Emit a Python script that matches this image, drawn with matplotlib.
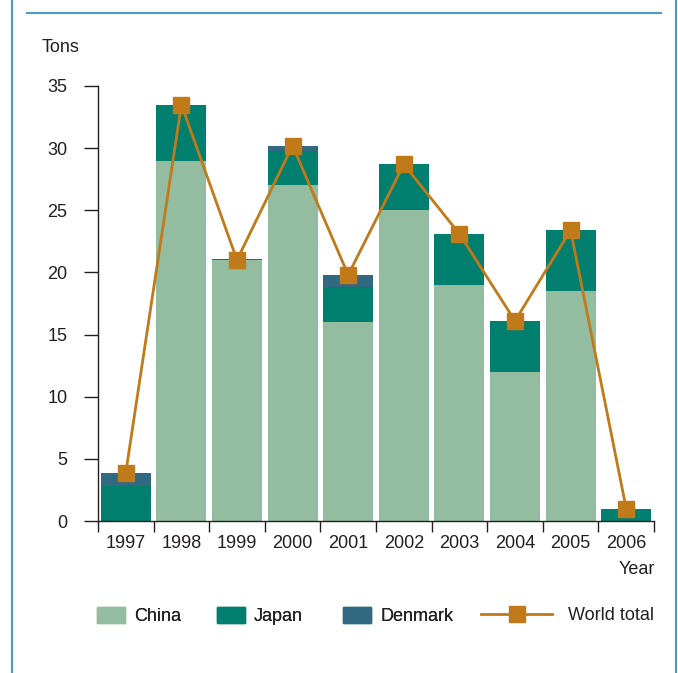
import matplotlib
matplotlib.use('Agg')
import matplotlib.pyplot as plt
from matplotlib.lines import Line2D
from matplotlib.patches import Patch
import numpy as np

plt.rcParams['font.family'] = ['Liberation Sans', 'DejaVu Sans']

years = ['1997', '1998', '1999', '2000', '2001', '2002', '2003', '2004', '2005', '2006']
china = [0, 29, 21, 27, 16, 25, 19, 12, 18.5, 0]
japan = [2.8, 4.5, 0.1, 2.75, 2.8, 3.7, 4.1, 4.1, 4.9, 1.0]
denmark = [1.1, 0, 0, 0.45, 1.0, 0, 0, 0, 0, 0]
world = [3.9, 33.5, 21, 30.2, 19.8, 28.7, 23.1, 16.1, 23.4, 1.0]

c_china = '#93bca0'
c_japan = '#007e6e'
c_den = '#316a80'
c_world = '#c07a1a'
c_txt = '#231f20'
c_frame = '#4a9cc0'
fs = 13

fig = plt.figure(figsize=(6.78, 6.73), dpi=100)
ax = fig.add_axes([98/678, 1-521/673, (654-98)/678, (521-86)/673])

x = np.arange(len(years))
china = np.array(china)
japan = np.array(japan)
denmark = np.array(denmark)
ax.bar(x, china, width=0.9, color=c_china, zorder=2)
ax.bar(x, japan, width=0.9, bottom=china, color=c_japan, zorder=2)
ax.bar(x, denmark, width=0.9, bottom=china+japan, color=c_den, zorder=2)
ax.plot(x, world, color=c_world, lw=2, marker='s', ms=11.5, mec=c_world, mfc=c_world, zorder=3)

ax.set_xlim(-0.5, len(years)-0.5)
ax.set_ylim(0, 35)
ax.set_yticks(range(0, 36, 5))
ax.set_xticks(x)
ax.set_xticklabels(years)
ax.set_xticks(np.arange(-0.5, len(years)), minor=True)
ax.tick_params(axis='x', which='major', length=0, pad=10, labelsize=fs, labelcolor=c_txt)
ax.tick_params(axis='x', which='minor', length=8, width=1, direction='out', color=c_txt)
ax.tick_params(axis='y', length=10, width=1, pad=12, labelsize=fs, labelcolor=c_txt, color=c_txt)
for s in ['top', 'right']:
    ax.spines[s].set_visible(False)
for s in ['left', 'bottom']:
    ax.spines[s].set_color(c_txt)
    ax.spines[s].set_linewidth(1)

fig.text(42/678, 1-48/673, 'Tons', fontsize=fs, color=c_txt, va='center', ha='left')
fig.text(655/678, 1-570/673, 'Year', fontsize=fs, color=c_txt, va='center', ha='right')

# legend, one entry each so they sit where the original has them
handles = [Patch(color=c_china, label='China'),
           Patch(color=c_japan, label='Japan'),
           Patch(color=c_den, label='Denmark')]
xpos = [97, 217, 343]
for h, xp in zip(handles, xpos):
    lg = fig.legend(handles=[h], loc='center left', bbox_to_anchor=(xp/678, 1-616/673),
                    frameon=False, fontsize=fs, handlelength=1.55, handleheight=1.0,
                    handletextpad=0.5, labelcolor=c_txt, borderpad=0, borderaxespad=0)
    fig.add_artist(lg)
hw = Line2D([], [], color=c_world, lw=2, marker='s', ms=11.5, mfc=c_world, mec=c_world, label='World total')
fig.legend(handles=[hw], loc='center left', bbox_to_anchor=(481/678, 1-616/673),
           frameon=False, fontsize=fs, handlelength=3.95, handletextpad=0.85,
           labelcolor=c_txt, borderpad=0, borderaxespad=0)

# frame
fig.add_artist(Line2D([12/678, 12/678], [0, 1], color=c_frame, lw=1.5))
fig.add_artist(Line2D([676/678, 676/678], [0, 1], color=c_frame, lw=1.5))
fig.add_artist(Line2D([27/678, 661/678], [1-13/673, 1-13/673], color=c_frame, lw=1.5))

plt.savefig('out.png', dpi=100)
plt.close()
